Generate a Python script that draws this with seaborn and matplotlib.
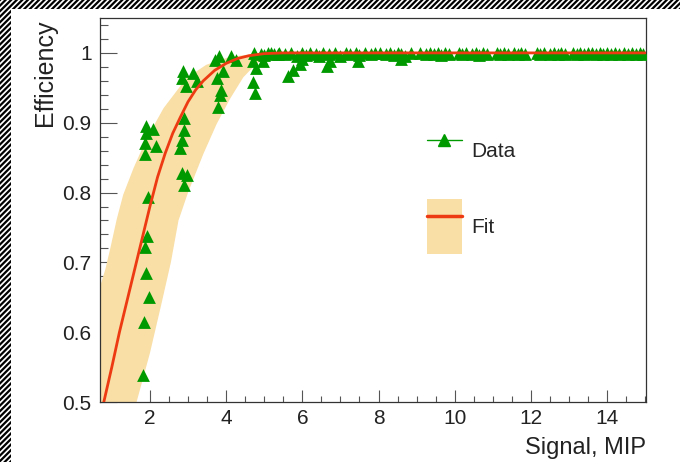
import numpy as np
import matplotlib
matplotlib.use("Agg")
import matplotlib.pyplot as plt
import seaborn as sns
from matplotlib.patches import Patch, Rectangle
from matplotlib.lines import Line2D
from matplotlib.ticker import MultipleLocator, FormatStrFormatter

# ── data ─────────────────────────────────────────────────────────────────────
sig_rise = [1.96, 1.93, 1.87, 1.91, 1.97, 1.84, 1.82, 1.89, 2.09, 1.91, 1.87, 2.17, 1.88,
            2.87, 3.13, 2.83, 3.23, 2.96, 2.89, 2.89, 2.83, 2.78, 2.83, 2.98, 2.89,
            3.81, 4.13, 4.26, 3.70, 3.92, 3.76, 3.87, 3.83, 3.79,
            4.74, 4.92, 5.18, 5.35, 4.70, 4.96, 4.79, 4.70, 4.77,
            5.62, 5.76, 5.93, 5.99, 6.64, 6.72, 7.47, 8.60]
eff_rise = [0.793, 0.738, 0.722, 0.685, 0.650, 0.615, 0.538, 0.895, 0.891, 0.885, 0.871, 0.867, 0.855,
            0.974, 0.971, 0.964, 0.960, 0.952, 0.907, 0.890, 0.875, 0.864, 0.828, 0.825, 0.811,
            0.995, 0.995, 0.990, 0.990, 0.974, 0.964, 0.947, 0.940, 0.923,
            1.000, 0.998, 1.000, 0.999, 0.988, 0.988, 0.978, 0.959, 0.943,
            0.967, 0.976, 0.984, 0.991, 0.981, 0.988, 0.988, 0.991]

sig_plateau = [5.00, 5.10, 5.25, 5.40, 5.55, 5.70, 5.85,
               6.00, 6.10, 6.20, 6.35, 6.45, 6.55, 6.70, 6.85,
               7.00, 7.15, 7.25, 7.40, 7.50, 7.65, 7.80, 7.90,
               8.05, 8.20, 8.30, 8.40, 8.50, 8.60, 8.70, 8.85,
               9.10, 9.25, 9.35, 9.45, 9.55, 9.65, 9.75, 9.85,
               10.10, 10.20, 10.30, 10.45, 10.55, 10.65, 10.75, 10.85,
               11.10, 11.20, 11.30, 11.40, 11.55, 11.65, 11.75, 11.85,
               12.15, 12.25, 12.35, 12.50, 12.60, 12.70, 12.80, 12.90,
               13.10, 13.20, 13.30, 13.40, 13.50, 13.60, 13.70, 13.80, 13.90,
               14.00, 14.10, 14.20, 14.30, 14.45, 14.55, 14.65, 14.75, 14.85, 14.95]
eff_plateau = [0.997, 1.000, 0.998, 1.000, 0.999, 1.000, 0.996,
               1.000, 0.997, 1.000, 0.999, 0.995, 1.000, 0.998, 1.000,
               0.996, 1.000, 0.999, 1.000, 0.997, 1.000, 0.998, 1.000,
               1.000, 0.998, 1.000, 0.997, 1.000, 0.999, 0.996, 1.000,
               1.000, 0.999, 1.000, 0.998, 1.000, 0.997, 1.000, 0.999,
               1.000, 0.998, 1.000, 0.999, 1.000, 0.997, 1.000, 0.999,
               1.000, 0.999, 1.000, 0.998, 1.000, 0.999, 1.000, 0.998,
               1.000, 0.999, 1.000, 0.998, 1.000, 0.999, 1.000, 0.999,
               1.000, 0.999, 1.000, 0.998, 1.000, 1.000, 0.999, 1.000, 0.999,
               1.000, 0.999, 1.000, 0.998, 1.000, 0.999, 1.000, 0.998, 1.000, 0.999]

fit_x = [0.79, 1.0, 1.2, 1.4, 1.6, 1.8, 2.0, 2.2, 2.4, 2.6, 2.8, 3.0, 3.2, 3.4, 3.7,
         4.0, 4.3, 4.6, 5.0, 5.5, 6.0, 8.0, 10.0, 12.0, 15.0]
fit_y = [0.50, 0.55, 0.60, 0.645, 0.69, 0.735, 0.78, 0.822, 0.856, 0.885, 0.908, 0.930,
         0.947, 0.960, 0.975, 0.985, 0.992, 0.996, 0.999, 1.0, 1.0, 1.0, 1.0, 1.0, 1.0]

band_up_x = [0.55, 0.69, 0.83, 0.96, 1.13, 1.30, 1.57, 1.92, 2.36, 2.96, 3.48, 4.08, 4.80, 15.0]
band_up_y = [0.63, 0.665, 0.69, 0.72, 0.762, 0.797, 0.835, 0.878, 0.921, 0.964, 0.983, 0.994, 0.999, 1.0]
band_lo_x = [0.55, 1.55, 1.65, 2.0, 2.3, 2.55, 2.75, 3.0, 3.4, 3.75, 4.1, 4.45, 4.8, 5.2, 5.6, 15.0]
band_lo_y = [0.45, 0.48, 0.50, 0.57, 0.64, 0.70, 0.76, 0.80, 0.855, 0.898, 0.934, 0.965, 0.985, 0.995, 1.0, 1.0]

GREEN, RED, BAND = "#009a00", "#ee3a12", "#f9dea6"

# ── figure ───────────────────────────────────────────────────────────────────
sns.set_style("white")
plt.rcParams["font.family"] = ["Liberation Sans", "DejaVu Sans"]
plt.rcParams["hatch.linewidth"] = 1.6

fig = plt.figure(figsize=(6.8, 4.62), dpi=100)
ax = fig.add_axes([100 / 680, 1 - 402 / 462, 546 / 680, 384 / 462])

# hatched canvas border (top and left)
fig.patches.append(Rectangle((0, 1 - 9 / 462), 1, 9 / 462, transform=fig.transFigure,
                             facecolor="white", edgecolor="black", hatch="//////", lw=0))
fig.patches.append(Rectangle((0, 0), 11 / 680, 1, transform=fig.transFigure,
                             facecolor="white", edgecolor="black", hatch="//////", lw=0))

# error band of the fit
ax.fill(band_up_x + band_lo_x[::-1], band_up_y + band_lo_y[::-1],
        color=BAND, lw=0, zorder=1)

sig_all = sig_rise + sig_plateau
eff_all = eff_rise + eff_plateau
sns.scatterplot(x=sig_all, y=eff_all, marker="^", s=85, color=GREEN, linewidth=0,
                ax=ax, zorder=3, legend=False)
sns.lineplot(x=fit_x, y=fit_y, color=RED, lw=2, ax=ax, zorder=4, legend=False)

ax.set_xlim(0.69, 15.02)
ax.set_ylim(0.5, 1.05)

ax.xaxis.set_major_locator(MultipleLocator(2))
ax.xaxis.set_minor_locator(MultipleLocator(0.5))
ax.yaxis.set_major_locator(MultipleLocator(0.1))
ax.yaxis.set_minor_locator(MultipleLocator(0.02))
ax.yaxis.set_major_formatter(FormatStrFormatter("%g"))
ax.tick_params(axis="both", which="both", direction="in", colors="#555555",
               labelcolor="#222222", labelsize=15, width=0.8,
               bottom=True, left=True, top=False, right=False)
ax.tick_params(axis="y", which="major", length=12, pad=6)
ax.tick_params(axis="y", which="minor", length=6)
ax.tick_params(axis="x", which="major", length=8.5, pad=5)
ax.tick_params(axis="x", which="minor", length=4.3)
for sp in ax.spines.values():
    sp.set_color("#333333")
    sp.set_linewidth(0.9)

ax.set_ylabel("Efficiency", fontsize=18, loc="top", color="#222222")
ax.yaxis.set_label_coords(-0.078, 0.995)
ax.set_xlabel("Signal, MIP", fontsize=17, loc="right", color="#222222")
ax.xaxis.set_label_coords(1.0, -0.09)

handles = [Line2D([], [], color=GREEN, marker="^", lw=1, ms=9),
           (Patch(facecolor=BAND, lw=0), Line2D([], [], color=RED, lw=2.5))]
ax.legend(handles, ["Data", "Fit"], loc="upper left", frameon=False,
          bbox_to_anchor=(426.7 / 680, 1 - 123.5 / 462), bbox_transform=fig.transFigure,
          borderpad=0, borderaxespad=0, fontsize=15, handlelength=1.68,
          handleheight=3.69, labelspacing=1.0, handletextpad=0.48)

fig.savefig("out.png", dpi=100)
